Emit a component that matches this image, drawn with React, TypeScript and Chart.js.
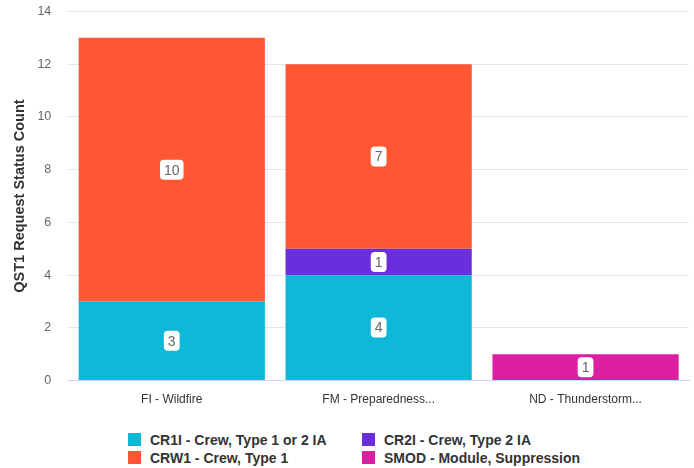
import React, { useEffect, useRef } from "react";
import { Chart, registerables } from "chart.js";

Chart.register(...registerables);

const categories = ["FI - Wildfire", "FM - Preparedness...", "ND - Thunderstorm..."];
const cr1iValues = [3, 4, 0];
const cr2iValues = [0, 1, 0];
const crw1Values = [10, 7, 0];
const smodValues = [0, 0, 1];
const yTicks = [0, 2, 4, 6, 8, 10, 12, 14];

const seriesNames = [
  "CR1I - Crew, Type 1 or 2 IA",
  "CR2I - Crew, Type 2 IA",
  "CRW1 - Crew, Type 1",
  "SMOD - Module, Suppression",
];
const seriesColors = ["#0DB8D9", "#6B2EDC", "#FF5733", "#DB1FA0"];
const legendOrder = [0, 1, 2, 3];

const FONT = "Arial, 'Liberation Sans', sans-serif";

const labelPlugin = {
  id: "boxLabels",
  afterDatasetsDraw(chart: any) {
    const ctx = chart.ctx;
    ctx.save();
    ctx.font = `14px ${FONT}`;
    ctx.textAlign = "center";
    ctx.textBaseline = "middle";
    chart.data.datasets.forEach((ds: any, di: number) => {
      const meta = chart.getDatasetMeta(di);
      meta.data.forEach((bar: any, i: number) => {
        const v = ds.data[i];
        if (!v) return;
        const { x, y, base } = bar.getProps(["x", "y", "base"], true);
        const cy = (y + base) / 2;
        const text = String(v);
        const w = ctx.measureText(text).width + 8;
        const h = 20;
        ctx.fillStyle = "#ffffff";
        ctx.beginPath();
        ctx.roundRect(x - w / 2, cy - h / 2, w, h, 4);
        ctx.fill();
        ctx.fillStyle = "#666666";
        ctx.fillText(text, x, cy + 1);
      });
    });
    ctx.restore();
  },
};

export default function App() {
  const ref = useRef<HTMLCanvasElement | null>(null);
  useEffect(() => {
    if (!ref.current) return;
    const values = [cr1iValues, cr2iValues, crw1Values, smodValues];
    const chart = new Chart(ref.current, {
      type: "bar",
      data: {
        labels: categories,
        datasets: values.map((d, i) => ({
          label: seriesNames[i],
          data: d,
          backgroundColor: seriesColors[i],
          borderWidth: 0,
          barPercentage: 0.9,
          categoryPercentage: 1.0,
        })),
      },
      plugins: [labelPlugin],
      options: {
        animation: false,
        responsive: false,
        maintainAspectRatio: false,
        layout: { padding: { left: 11, right: 5, top: 4, bottom: 0 } },
        plugins: { legend: { display: false }, tooltip: { enabled: false } },
        scales: {
          x: {
            stacked: true,
            grid: { display: false, drawTicks: false },
            border: { color: "#ccd6eb", width: 1 },
            ticks: { color: "#333333", font: { family: FONT, size: 12 }, padding: 12 },
          },
          y: {
            stacked: true,
            min: 0,
            max: 14,
            afterBuildTicks: (axis: any) => {
              axis.ticks = yTicks.map((v) => ({ value: v }));
            },
            grid: { color: "#e6e6e6", drawTicks: false },
            border: { display: false },
            ticks: { color: "#666666", font: { family: FONT, size: 12.5 }, padding: 17 },
            title: {
              display: true,
              text: "QST1 Request Status Count",
              color: "#333333",
              font: { family: FONT, size: 14.5, weight: "bold" },
              padding: { top: 0, bottom: -8 },
            },
          },
        },
      },
    });
    return () => chart.destroy();
  }, []);

  return (
    <div style={{ position: "absolute", left: 0, top: 0, width: 694, height: 468, overflow: "hidden", background: "#fff", fontFamily: FONT }}>
      <canvas ref={ref} width={694} height={432} style={{ display: "block", width: 694, height: 432, marginTop: -13 }} />
      <div
        style={{
          display: "grid",
          gridTemplateColumns: "234px auto",
          paddingLeft: 128,
          marginTop: 12,
          rowGap: 1,
        }}
      >
        {legendOrder.map((i) => (
          <div key={i} style={{ display: "flex", alignItems: "center", height: 17 }}>
            <span style={{ width: 13, height: 13, background: seriesColors[i], display: "inline-block", marginRight: 9, flex: "none" }} />
            <span style={{ fontSize: 14, fontWeight: "bold", color: "#333333", whiteSpace: "nowrap" }}>{seriesNames[i]}</span>
          </div>
        ))}
      </div>
    </div>
  );
}
